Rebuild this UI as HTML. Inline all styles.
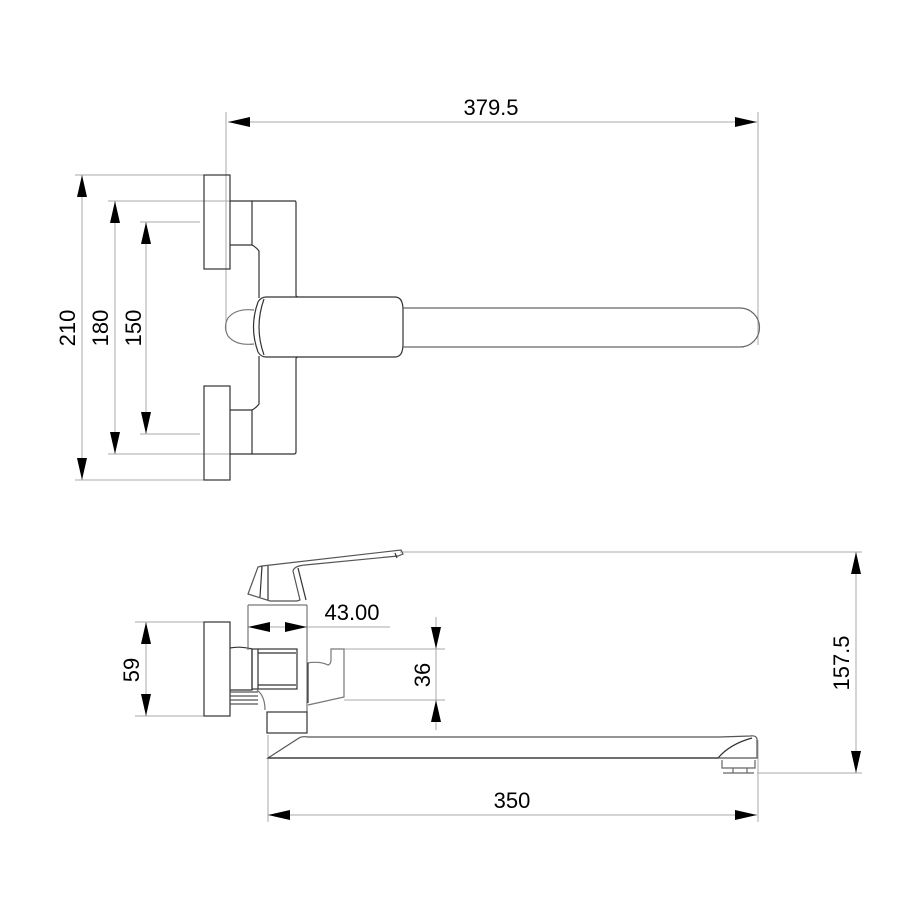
<!DOCTYPE html>
<html><head><meta charset="utf-8"><style>
html,body{margin:0;padding:0;background:#fff;}
svg{display:block;}
text{font-family:"Liberation Sans",sans-serif;font-size:22px;fill:#000;}
</style></head><body>
<svg width="912" height="912" viewBox="0 0 912 912" xmlns="http://www.w3.org/2000/svg">
<g stroke="#aaa" stroke-width="1" fill="none">
<line x1="226" y1="112" x2="226" y2="330"/>
<line x1="758" y1="112" x2="758" y2="345"/>
<line x1="75" y1="175" x2="204" y2="175"/>
<line x1="75" y1="480" x2="204" y2="480"/>
<line x1="108" y1="201" x2="230" y2="201"/>
<line x1="108" y1="454" x2="230" y2="454"/>
<line x1="140" y1="222" x2="200" y2="222"/>
<line x1="140" y1="434" x2="200" y2="434"/>
<line x1="82" y1="175" x2="82" y2="480"/>
<line x1="115" y1="201" x2="115" y2="454"/>
<line x1="146" y1="222" x2="146" y2="434"/>
<line x1="228" y1="122" x2="757" y2="122"/>
<line x1="135" y1="622" x2="204" y2="622"/>
<line x1="135" y1="716" x2="204" y2="716"/>
<line x1="146" y1="622" x2="146" y2="716"/>
<line x1="248" y1="605" x2="248" y2="650"/>
<line x1="307" y1="605" x2="307" y2="660"/>
<line x1="248" y1="627" x2="390" y2="627"/>
<line x1="344" y1="649" x2="445" y2="649"/>
<line x1="344" y1="700" x2="445" y2="700"/>
<line x1="436" y1="617" x2="436" y2="730"/>
<line x1="400" y1="552" x2="862" y2="552"/>
<line x1="757" y1="773" x2="862" y2="773"/>
<line x1="856" y1="552" x2="856" y2="773"/>
<line x1="268" y1="735" x2="268" y2="822"/>
<line x1="758" y1="740" x2="758" y2="822"/>
<line x1="268" y1="815" x2="757" y2="815"/>
</g>
<g fill="#000">
<path d="M228,122 l22,-5 v10z"/><path d="M757,122 l-22,-5 v10z"/>
<path d="M82,175 l-5,22 h10z"/><path d="M82,480 l-5,-22 h10z"/>
<path d="M115,201 l-5,22 h10z"/><path d="M115,454 l-5,-22 h10z"/>
<path d="M146,222 l-5,22 h10z"/><path d="M146,434 l-5,-22 h10z"/>
<path d="M146,622 l-5,22 h10z"/><path d="M146,716 l-5,-22 h10z"/>
<path d="M248,627 l22,-5 v10z"/><path d="M307,627 l-22,-5 v10z"/>
<path d="M436,649 l-5,-22 h10z"/><path d="M436,700 l-5,22 h10z"/>
<path d="M856,552 l-5,22 h10z"/><path d="M856,773 l-5,-22 h10z"/>
<path d="M268,815 l22,-5 v10z"/><path d="M757,815 l-22,-5 v10z"/>
</g>
<g stroke="#333" stroke-width="1.2" fill="none">
<rect x="204" y="175" width="26" height="94"/>
<rect x="204" y="386" width="26" height="94"/>
<path d="M230,201 H252 V245 H230"/>
<path d="M230,410 H252 V454 H230"/>
<path d="M252,201 H295 Q296,201 296,203 V295 Q296,297 298,297"/>
<path d="M298,357 Q296,357 296,359 V452 Q296,454 294,454 H252"/>
<path d="M252,245 Q256,247 259,251 V298"/>
<path d="M252,410 Q256,408 259,404 V356"/>
<path d="M266,297 H395 Q403,297 403,310 V344 Q403,357 395,357 H266 Q261,357 258,352 Q249,327 258,302 Q261,297 266,297Z"/>
<path d="M264,299 Q254,327 264,355"/>
<path d="M254,310 Q236,308 228,318 Q223,327 228,336 Q236,346 254,344" stroke="#777"/>
<path d="M403,308 H740 A19.5,19.5 0 0 1 740,347 H403" stroke="#666"/>
<rect x="204" y="622" width="26" height="94"/>
<path d="M230,648 Q240,646 252,649 V690 H230"/>
<rect x="252" y="649" width="45" height="40"/>
<line x1="258" y1="649" x2="258" y2="689"/>
<line x1="258" y1="653" x2="296" y2="653"/>
<line x1="258" y1="685" x2="296" y2="685"/>
<path d="M230,692 H258 M230,696 H258 M230,700 H258 M230,704 H258" stroke="#555"/>
<path d="M257,690 Q265,696 265,710" stroke="#777"/>
<path d="M248,605 V650 M307,605 V712" stroke="#777"/>
<line x1="248" y1="605" x2="307" y2="605" stroke="#777"/>
<rect x="267" y="712" width="40" height="21"/>
<path d="M307,663 Q320,661 328,665 Q331,664 331,660 V649 H344 V697 L308,705" stroke="#777"/>
<line x1="308" y1="663" x2="308" y2="703"/>
<path d="M268,758 L299,738 Q302,736 308,737 H720 L750,736 Q756,735 757,739 V758 H719 L718,758 H268Z" stroke="#555"/>
<path d="M268,758 H718 M718,758 Q730,744 752,738" />
<path d="M722,760 V768 H755 V760 M733,768 V773 M747,768 V773 M723,773 H754" stroke="#666"/>
<path d="M258,567 L248,594 L270,601 H297 L300,600 L293,571 Q294,566 305,565 L398,556 L403,554 L401,550 L262,566Z" stroke="#555"/>
<line x1="262" y1="566" x2="260" y2="597"/>
<line x1="268" y1="566" x2="268" y2="600"/>
<line x1="298" y1="568" x2="306" y2="600"/>
<line x1="395" y1="553" x2="397" y2="558"/>
</g>
<text x="491" y="115" text-anchor="middle">379.5</text>
<text transform="translate(75,328) rotate(-90)" text-anchor="middle">210</text>
<text transform="translate(108,328) rotate(-90)" text-anchor="middle">180</text>
<text transform="translate(141,328) rotate(-90)" text-anchor="middle">150</text>
<text transform="translate(139,670) rotate(-90)" text-anchor="middle">59</text>
<text x="352" y="620" text-anchor="middle">43.00</text>
<text transform="translate(430,675) rotate(-90)" text-anchor="middle">36</text>
<text transform="translate(849,663) rotate(-90)" text-anchor="middle">157.5</text>
<text x="512" y="808" text-anchor="middle">350</text>
</svg>
</body></html>
